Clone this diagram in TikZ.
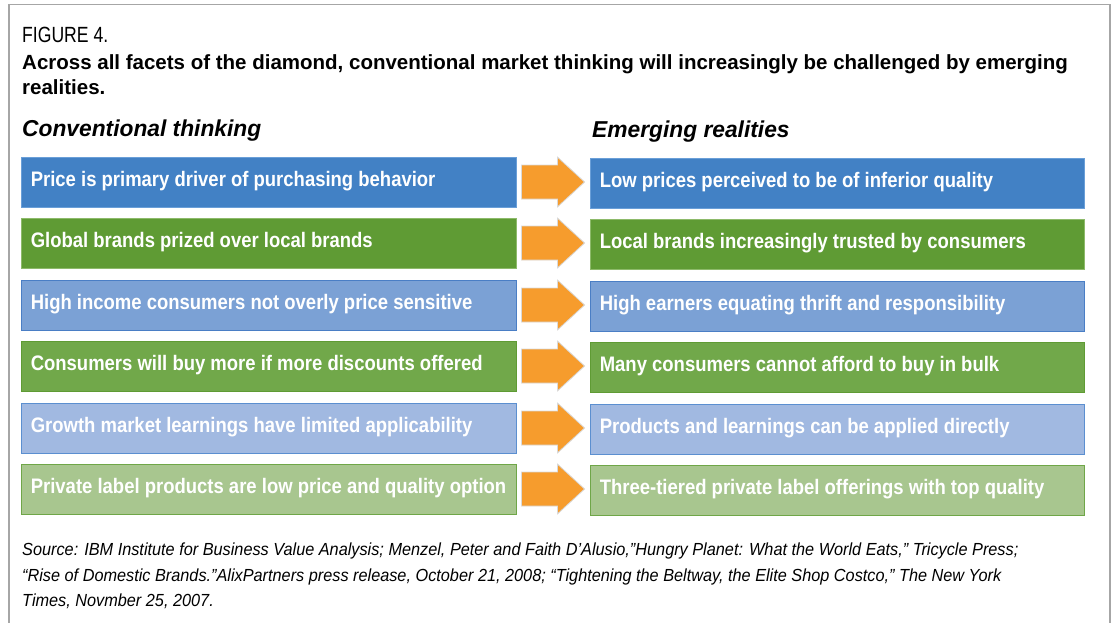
\documentclass[tikz,border=0pt]{standalone}
\usepackage{fontspec}
\setmainfont{Liberation Sans}
\newfontfamily\condfig[FakeStretch=0.8]{Liberation Sans}
\newfontfamily\condbox[FakeStretch=0.88]{Liberation Sans}
\newfontfamily\condsrc[FakeStretch=0.93]{Liberation Sans}
\newfontfamily\condhead[FakeStretch=0.99]{Liberation Sans}
\usetikzlibrary{calc}
\definecolor{cA}{HTML}{4281C5}
\definecolor{cAb}{HTML}{6A9FD8}
\definecolor{cB}{HTML}{5F9B34}
\definecolor{cBb}{HTML}{8DBA6A}
\definecolor{cC}{HTML}{7BA1D5}
\definecolor{cCb}{HTML}{4A7EC5}
\definecolor{cD}{HTML}{71A84A}
\definecolor{cDb}{HTML}{5F9B34}
\definecolor{cE}{HTML}{A1B9E1}
\definecolor{cEb}{HTML}{5B8FD0}
\definecolor{cF}{HTML}{A8C68F}
\definecolor{cFb}{HTML}{6FA648}
\definecolor{orng}{HTML}{F69C2D}
\definecolor{frame}{HTML}{A6A6A6}
\tikzset{
  rowbox/.style={draw=#1b, fill=#1, line width=0.8pt, minimum height=50pt, inner sep=0pt},
  leftbox/.style={rowbox=#1, minimum width=495pt},
  rightbox/.style={rowbox=#1, minimum width=494pt},
  boxtext/.style={anchor=west, text=white, font=\condbox\bfseries\fontsize{21}{24}\selectfont, inner sep=0pt},
  blockarrow/.style={fill=orng, draw=black!15, line width=0.8pt},
  plain/.style={anchor=base west, inner sep=0pt},
}
\begin{document}
\begin{tikzpicture}[x=1pt,y=-1pt]
\useasboundingbox (0,0) rectangle (1112,622);
\draw[frame, line width=1.5pt] (9,640) -- (9,4.5) -- (1110,4.5) -- (1110,640);
\node[plain, font=\condfig\fontsize{22}{26}\selectfont] (fig) at (22,42) {FIGURE 4.};
\node[plain, font=\bfseries\fontsize{20.5}{24}\selectfont] (t1) at (22,69) {Across all facets of the diamond, conventional market thinking will increasingly be challenged by emerging};
\node[plain, font=\bfseries\fontsize{20.5}{24}\selectfont] (t2) at (22,94) {realities.};
\node[plain, font=\condhead\bfseries\itshape\fontsize{23}{26}\selectfont] (hl) at (22,136) {Conventional thinking};
\node[plain, font=\condhead\bfseries\itshape\fontsize{23}{26}\selectfont] (hr) at (592,137) {Emerging realities};
\foreach \i/\y/\c/\lt/\rt in {
  1/182/cA/{Price is primary driver of purchasing behavior}/{Low prices perceived to be of inferior quality},
  2/243/cB/{Global brands prized over local brands}/{Local brands increasingly trusted by consumers},
  3/305/cC/{High income consumers not overly price sensitive}/{High earners equating thrift and responsibility},
  4/366/cD/{Consumers will buy more if more discounts offered}/{Many consumers cannot afford to buy in bulk},
  5/428/cE/{Growth market learnings have limited applicability}/{Products and learnings can be applied directly},
  6/489/cF/{Private label products are low price and quality option}/{Three-tiered private label offerings with top quality}}{
  \node[leftbox=\c] (L\i) at (268.5,\y) {};
  \node[rightbox=\c] (R\i) at (837,\y+1) {};
  \node[boxtext] (Lt\i) at ($(L\i.west)+(10,-1)$) {\lt};
  \node[boxtext] (Rt\i) at ($(R\i.west)+(10,-1)$) {\rt};
  \draw[blockarrow] ($(L\i.east)+(5,-17)$) -- ($(L\i.east)+(41,-17)$) -- ($(L\i.east)+(41,-25)$)
     -- ($(R\i.west)+(-5,-1)$) -- ($(L\i.east)+(41,25)$) -- ($(L\i.east)+(41,17)$)
     -- ($(L\i.east)+(5,17)$) -- cycle;
}
\begin{scope}[font=\condsrc\itshape\fontsize{17.5}{21}\selectfont]
\node[plain] (s1) at (22,555) {Source: IBM Institute for Business Value Analysis; Menzel, Peter and Faith D’Alusio,”Hungry Planet: What the World Eats,” Tricycle Press;};
\node[plain] (s2) at (22,581) {“Rise of Domestic Brands.”AlixPartners press release, October 21, 2008; “Tightening the Beltway, the Elite Shop Costco,” The New York};
\node[plain] (s3) at (22,606) {Times, Novmber 25, 2007.};
\end{scope}
\end{tikzpicture}
\end{document}
